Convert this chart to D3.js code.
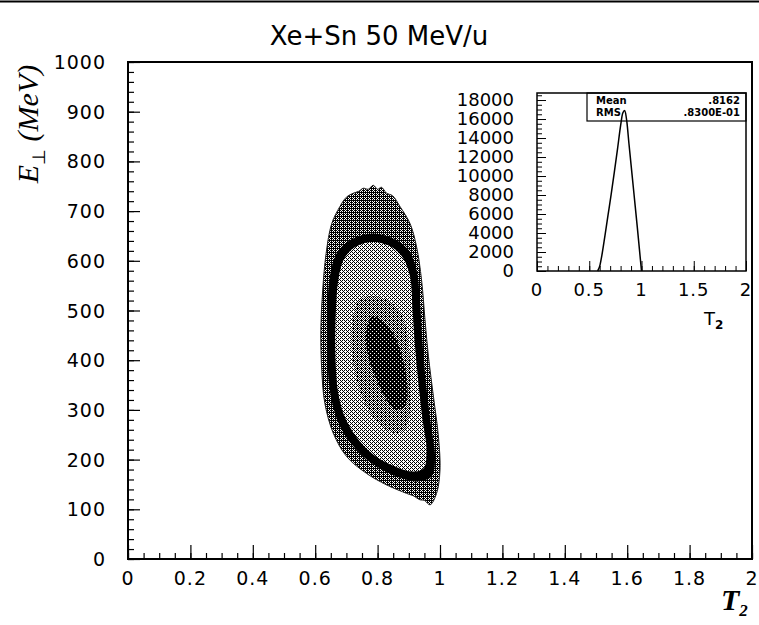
<!DOCTYPE html>
<html>
<head>
<meta charset="utf-8">
<script src="https://cdn.jsdelivr.net/npm/d3@7/dist/d3.min.js"></script>
<style>
  body { margin: 0; background: #fff; }
  text { fill: #000; }
</style>
</head>
<body>
<div class="chart"></div>
<script>
// values

const title = 'Xe+Sn 50 MeV/u';

const xTicks = [0, 0.2, 0.4, 0.6, 0.8, 1, 1.2, 1.4, 1.6, 1.8, 2];
const xTickLabels = ['0', '0.2', '0.4', '0.6', '0.8', '1', '1.2', '1.4', '1.6', '1.8', '2'];
const yTicks = [0, 100, 200, 300, 400, 500, 600, 700, 800, 900, 1000];

// inset: 1-d projection on T2
const insetXTicks = [0, 0.5, 1, 1.5, 2];
const insetXTickLabels = ['0', '0.5', '1', '1.5', '2'];
const insetYTicks = [0, 2000, 4000, 6000, 8000, 10000, 12000, 14000, 16000, 18000];
const insetT2 = [0.58, 0.60, 0.62, 0.65, 0.68, 0.71, 0.74, 0.77, 0.80, 0.82, 0.84, 0.86, 0.88, 0.90, 0.92, 0.94, 0.96, 0.98, 1.00];
const insetCounts = [0, 500, 1600, 3700, 5900, 8100, 10400, 12800, 15300, 16600, 16900, 15700, 13400, 11200, 9000, 6800, 4600, 2300, 0];
const statNames = ['Mean', 'RMS'];
const statValues = ['.8162', '.8300E-01'];

// 2-d distribution, contour levels from the outside in, points are [T2, E]
const level1 = [[0.786, 752], [0.800, 744], [0.812, 748], [0.829, 736], [0.848, 731], [0.872, 709], [0.904, 675], [0.925, 628], [0.941, 561], [0.952, 481], [0.963, 407], [0.979, 327], [0.995, 246], [1.0, 179], [0.989, 132], [0.968, 109], [0.950, 118], [0.936, 119], [0.915, 127], [0.893, 132], [0.829, 149], [0.765, 172], [0.701, 206], [0.658, 253], [0.631, 313], [0.621, 380], [0.618, 461], [0.624, 541], [0.635, 615], [0.653, 675], [0.679, 709], [0.700, 728], [0.722, 736], [0.740, 740], [0.754, 746], [0.770, 744]];
const level2 = [[0.786, 655], [0.850, 645], [0.899, 622], [0.925, 581], [0.936, 514], [0.944, 434], [0.955, 353], [0.970, 273], [0.984, 206], [0.973, 166], [0.925, 156], [0.861, 166], [0.797, 186], [0.733, 219], [0.680, 266], [0.650, 327], [0.639, 407], [0.639, 494], [0.647, 568], [0.669, 615], [0.712, 642]];
const level3 = [[0.786, 638], [0.845, 628], [0.882, 605], [0.904, 568], [0.912, 501], [0.920, 427], [0.931, 353], [0.944, 280], [0.957, 219], [0.947, 182], [0.909, 176], [0.856, 186], [0.797, 205], [0.744, 236], [0.699, 280], [0.674, 333], [0.665, 407], [0.666, 494], [0.674, 561], [0.692, 603], [0.728, 628]];
const level4 = [[0.770, 528], [0.834, 521], [0.880, 488], [0.899, 434], [0.905, 374], [0.905, 313], [0.893, 266], [0.861, 253], [0.808, 270], [0.765, 306], [0.733, 360], [0.717, 421], [0.720, 481], [0.738, 518]];
const level5 = [[0.781, 488], [0.818, 478], [0.856, 447], [0.882, 400], [0.895, 353], [0.890, 310], [0.861, 300], [0.829, 320], [0.797, 360], [0.770, 407], [0.763, 454]];

const levels = [level1, level2, level3, level4, level5];
const levelDensity = [11, 16, 6, 9, 14]; // dots out of 16

/////////

const width = 759;
const height = 625;

const x = d3.scaleLinear().domain([0, 2]).range([128, 752]);
const y = d3.scaleLinear().domain([0, 1000]).range([559, 62]);

const ix = d3.scaleLinear().domain([0, 2]).range([537, 746]);
const iy = d3.scaleLinear().domain([0, 18740]).range([271, 93]);

const svg = d3
	.select('.chart')
	.append('svg')
	.attr('width', width)
	.attr('height', height)
	.style('font-family', "'DejaVu Sans', sans-serif");

//ordered dither patterns, like the old halftone print
const bayer = [[0, 8, 2, 10], [12, 4, 14, 6], [3, 11, 1, 9], [15, 7, 13, 5]];
const defs = svg.append('defs');
levelDensity.forEach((k) => {
	const p = defs
		.append('pattern')
		.attr('id', 'dither' + k)
		.attr('width', 4)
		.attr('height', 4)
		.attr('patternUnits', 'userSpaceOnUse');
	p.append('rect').attr('width', 4).attr('height', 4).attr('fill', '#fff');
	bayer.forEach((row, j) => {
		row.forEach((v, i) => {
			if (v < k) {
				p.append('rect').attr('x', i).attr('y', j).attr('width', 1).attr('height', 1).attr('fill', '#000').attr('shape-rendering', 'crispEdges');
			}
		});
	});
});

//scan border at the very top
svg.append('line').attr('x1', 0).attr('x2', width).attr('y1', 1.5).attr('y2', 1.5).attr('stroke', '#000').attr('stroke-width', 2);

//title
svg
	.append('text')
	.attr('x', 379)
	.attr('y', 45)
	.attr('text-anchor', 'middle')
	.style('font-size', '26px')
	.text(title);

//contour levels
const contour = d3
	.line()
	.x((d) => x(d[0]))
	.y((d) => y(d[1]))
	.curve(d3.curveCatmullRomClosed);

svg
	.append('g')
	.selectAll('path')
	.data(levels)
	.enter()
	.append('path')
	.attr('d', contour)
	.attr('fill', (d, i) => `url(#dither${levelDensity[i]})`)
	.attr('stroke', (d, i) => (i === 0 ? '#222' : 'none'))
	.attr('stroke-width', 1);

//main axes, ticks point inwards
const tickRange = (a, b, step) => d3.range(a, b + step / 2, step);

svg.append('g').attr('transform', `translate(0,${y(0)})`)
	.call(d3.axisBottom(x).tickValues(tickRange(0, 2, 0.05)).tickSize(-6).tickFormat(''));
svg.append('g').attr('transform', `translate(0,${y(0)})`)
	.call(d3.axisBottom(x).tickValues(xTicks).tickSize(-14).tickFormat(''));
svg.append('g').attr('transform', `translate(${x(0)},0)`)
	.call(d3.axisLeft(y).tickValues(tickRange(0, 1000, 20)).tickSize(-6).tickFormat(''));
svg.append('g').attr('transform', `translate(${x(0)},0)`)
	.call(d3.axisLeft(y).tickValues(yTicks).tickSize(-12).tickFormat(''));
svg.selectAll('.domain').remove();
svg.selectAll('.tick line').attr('stroke', '#000').attr('stroke-width', 1.2);

svg
	.append('rect')
	.attr('x', x(0))
	.attr('y', y(1000))
	.attr('width', x(2) - x(0))
	.attr('height', y(0) - y(1000))
	.attr('fill', 'none')
	.attr('stroke', '#000')
	.attr('stroke-width', 2);

//tick labels
svg
	.append('g')
	.selectAll('text')
	.data(xTicks)
	.enter()
	.append('text')
	.attr('x', (d) => x(d))
	.attr('y', 585)
	.attr('text-anchor', 'middle')
	.style('font-size', '19px')
	.style('letter-spacing', '1px')
	.text((d, i) => xTickLabels[i]);

svg
	.append('g')
	.selectAll('text')
	.data(yTicks)
	.enter()
	.append('text')
	.attr('x', 106)
	.attr('y', (d) => y(d) + 7)
	.attr('text-anchor', 'end')
	.style('font-size', '19px')
	.style('letter-spacing', '1px')
	.text((d) => d);

// text label for the y axis
const yLabel = svg
	.append('text')
	.attr('transform', 'translate(38,124) rotate(-90)')
	.attr('text-anchor', 'middle')
	.style('font-family', "'Liberation Serif', serif")
	.style('font-style', 'italic')
	.style('font-size', '30px');
yLabel.append('tspan').text('E');
yLabel.append('tspan').attr('dy', 7).style('font-size', '18px').style('font-style', 'normal').text('\u22a5');
yLabel.append('tspan').attr('dy', -7).text(' (MeV)');

// text label for x axis
const xLabel = svg
	.append('text')
	.attr('x', 721)
	.attr('y', 610)
	.style('font-family', "'Liberation Serif', serif")
	.style('font-style', 'italic')
	.style('font-weight', 'bold')
	.style('font-size', '30px');
xLabel.append('tspan').text('T');
xLabel.append('tspan').attr('dy', 6).style('font-size', '17px').text('2');

////////////////////////
// inset
const inset = svg.append('g').attr('class', 'inset');

inset
	.append('rect')
	.attr('x', ix(0))
	.attr('y', iy(18740))
	.attr('width', ix(2) - ix(0))
	.attr('height', iy(0) - iy(18740))
	.attr('fill', '#fff');

inset.append('g').attr('transform', `translate(0,${iy(0)})`)
	.call(d3.axisBottom(ix).tickValues(tickRange(0, 2, 0.1)).tickSize(-5).tickFormat(''));
inset.append('g').attr('transform', `translate(0,${iy(0)})`)
	.call(d3.axisBottom(ix).tickValues(insetXTicks).tickSize(-10).tickFormat(''));
inset.append('g').attr('transform', `translate(${ix(0)},0)`)
	.call(d3.axisLeft(iy).tickValues(tickRange(0, 18500, 500)).tickSize(-5).tickFormat(''));
inset.append('g').attr('transform', `translate(${ix(0)},0)`)
	.call(d3.axisLeft(iy).tickValues(insetYTicks).tickSize(-9).tickFormat(''));
inset.selectAll('.domain').remove();
inset.selectAll('.tick line').attr('stroke', '#000').attr('stroke-width', 1);

const histLine = d3
	.line()
	.x((d, i) => ix(insetT2[i]))
	.y((d) => iy(d))
	.curve(d3.curveMonotoneX);

inset
	.append('path')
	.datum(insetCounts)
	.attr('d', histLine)
	.attr('fill', 'none')
	.attr('stroke', '#000')
	.attr('stroke-width', 1.5);

//stat box
inset
	.append('rect')
	.attr('x', 587)
	.attr('y', iy(18740))
	.attr('width', ix(2) - 587)
	.attr('height', 28)
	.attr('fill', 'none')
	.attr('stroke', '#000')
	.attr('stroke-width', 1.2);

statNames.forEach((s, i) => {
	inset.append('text').attr('x', 596).attr('y', 104 + i * 12).style('font-size', '10px').style('font-weight', 'bold').text(s);
	inset.append('text').attr('x', 740).attr('y', 104 + i * 12).attr('text-anchor', 'end').style('font-size', '10px').style('font-weight', 'bold').text(statValues[i]);
});

inset
	.append('rect')
	.attr('x', ix(0))
	.attr('y', iy(18740))
	.attr('width', ix(2) - ix(0))
	.attr('height', iy(0) - iy(18740))
	.attr('fill', 'none')
	.attr('stroke', '#000')
	.attr('stroke-width', 1.5);

inset
	.append('g')
	.selectAll('text')
	.data(insetXTicks)
	.enter()
	.append('text')
	.attr('x', (d) => ix(d))
	.attr('y', 296)
	.attr('text-anchor', 'middle')
	.style('font-size', '18px')
	.style('letter-spacing', '1px')
	.text((d, i) => insetXTickLabels[i]);

inset
	.append('g')
	.selectAll('text')
	.data(insetYTicks)
	.enter()
	.append('text')
	.attr('x', 514)
	.attr('y', (d) => iy(d) + 6)
	.attr('text-anchor', 'end')
	.style('font-size', '18px')
	.text((d) => d);

const insetLabel = inset.append('text').attr('x', 704).attr('y', 325).style('font-size', '18px');
insetLabel.append('tspan').text('T');
insetLabel.append('tspan').attr('dy', 4).style('font-size', '12px').style('font-weight', 'bold').text('2');
</script>
</body>
</html>
